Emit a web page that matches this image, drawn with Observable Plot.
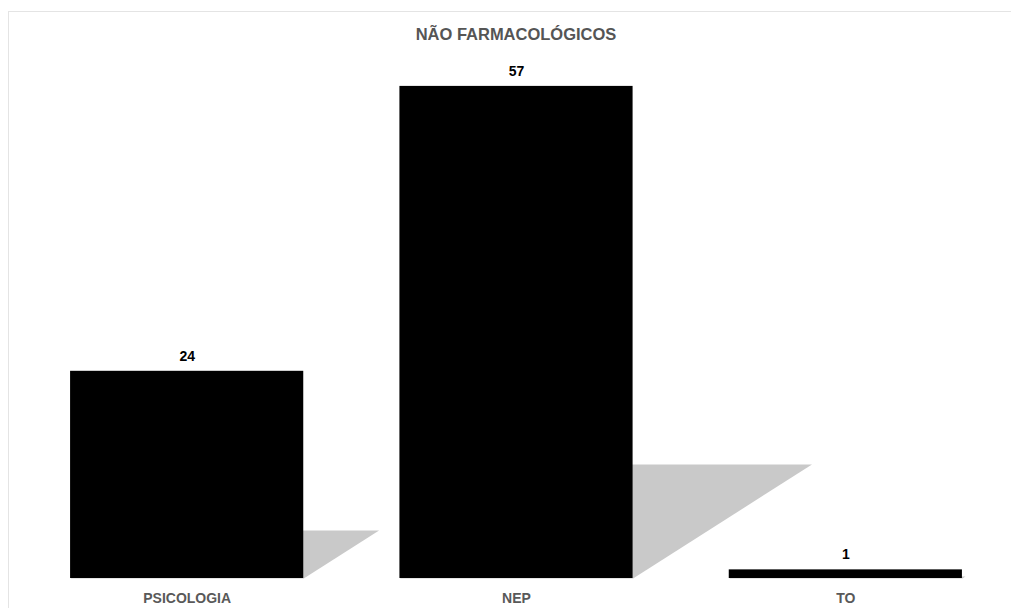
<!DOCTYPE html>
<html>
<head>
<meta charset="utf-8">
<script src="https://cdn.jsdelivr.net/npm/d3@7"></script>
<script src="https://cdn.jsdelivr.net/npm/@observablehq/plot@0.6"></script>
<style>
  html, body { margin: 0; padding: 0; background: #fff; overflow: hidden; }
  body { width: 1011px; height: 608px; position: relative; font-family: "Liberation Sans", Arial, sans-serif; }
  #frame { position: absolute; left: 8px; top: 11px; width: 1020px; height: 620px; border: 1px solid #e4e4e4; box-sizing: border-box; }
  #title { position: absolute; left: 22px; width: 988px; top: 25px; text-align: center; font-weight: bold; font-size: 16.5px; color: #555555; }
  #chart { position: absolute; left: 0; top: 0; }
</style>
</head>
<body>
<div id="frame"></div>
<div id="title">NÃO FARMACOLÓGICOS</div>
<div id="chart"></div>
<script>
const categories = ["PSICOLOGIA", "NEP", "TO"];
const values = [24, 57, 1];

const rows = categories.map((c, i) => ({cat: c, i, v: values[i]}));

// shadow polygons derived from each bar's value
const halfW = 0.354;
const shadowRatio = 0.2317;     // shadow height relative to bar value
const skew = 0.00953;           // horizontal offset per unit value (x units)
const shadow = rows.flatMap(d => {
  const h = d.v * shadowRatio, dx = d.v * skew;
  return [
    {cat: d.cat, x: d.i - halfW, y: 0},
    {cat: d.cat, x: d.i + halfW, y: 0},
    {cat: d.cat, x: d.i + halfW + dx, y: h},
    {cat: d.cat, x: d.i - halfW + dx, y: h}
  ];
});

const plot = Plot.plot({
  width: 1011,
  height: 608,
  marginLeft: 22,
  marginRight: 1,
  marginTop: 60,
  marginBottom: 30,
  x: {domain: [-0.5, 2.5], axis: null},
  y: {domain: [0, 60], axis: null},
  style: {fontFamily: "Liberation Sans, Arial, sans-serif", background: "transparent"},
  marks: [
    Plot.line(shadow, {x: "x", y: "y", z: "cat", fill: "#c9c9c9", stroke: "none", curve: "linear-closed"}),
    Plot.rectY(rows, {x1: d => d.i - halfW, x2: d => d.i + halfW, y1: 0, y2: "v", fill: "#000"}),
    Plot.text(rows, {x: "i", y: "v", text: d => String(d.v), dy: -15, fontSize: 14, fontWeight: "bold", fill: "#000"}),
    Plot.text(rows, {x: "i", y: 0, text: "cat", dy: 20, fontSize: 14, fontWeight: "bold", fill: "#595959"})
  ]
});
document.getElementById("chart").appendChild(plot);
</script>
</body>
</html>
